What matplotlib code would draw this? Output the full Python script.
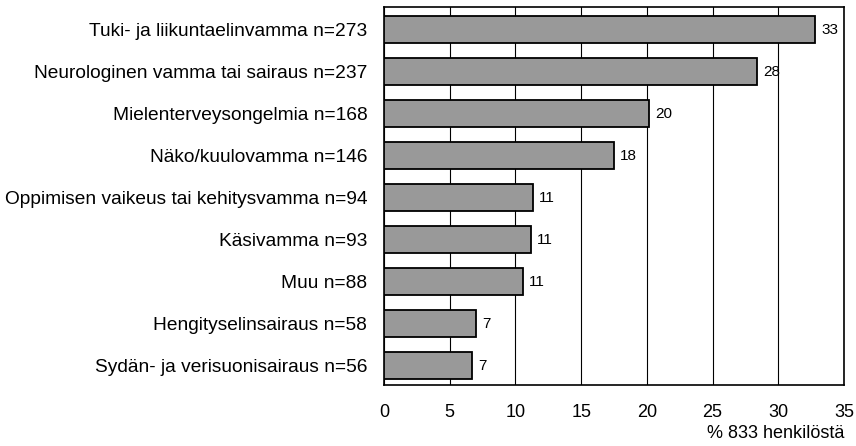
import matplotlib
matplotlib.use("Agg")
import matplotlib.pyplot as plt

categories = [
    "Tuki- ja liikuntaelinvamma n=273",
    "Neurologinen vamma tai sairaus n=237",
    "Mielenterveysongelmia n=168",
    "Näko/kuulovamma n=146",
    "Oppimisen vaikeus tai kehitysvamma n=94",
    "Käsivamma n=93",
    "Muu n=88",
    "Hengityselinsairaus n=58",
    "Sydän- ja verisuonisairaus n=56",
]
values = [32.8, 28.4, 20.2, 17.5, 11.3, 11.2, 10.6, 7.0, 6.7]
value_labels = ["33", "28", "20", "18", "11", "11", "11", "7", "7"]
xticks = [0, 5, 10, 15, 20, 25, 30, 35]
xlabel = "% 833 henkilöstä"

plt.rcParams["font.family"] = ["Liberation Sans", "DejaVu Sans"]

fig = plt.figure(figsize=(8.56, 4.46), dpi=100)
ax = fig.add_axes([384 / 856, 1 - 385 / 446, (844 - 384) / 856, (385 - 7) / 446])

y = list(range(len(categories)))
ax.set_axisbelow(True)
ax.grid(axis="x", color="black", linewidth=0.8)
ax.barh(y, values, height=0.64, color="#999999", edgecolor="black", linewidth=1.3, zorder=3)
for yi, v, lab in zip(y, values, value_labels):
    ax.text(v + 0.45, yi, lab, va="center", ha="left", fontsize=11, zorder=4)

ax.set_xlim(0, 35)
ax.set_ylim(8.464, -0.536)
ax.set_xticks(xticks)
ax.set_xticklabels([str(t) for t in xticks], fontsize=13)
ax.set_yticks(y)
ax.set_yticklabels(categories, fontsize=13.8)
ax.tick_params(axis="both", length=0)
ax.tick_params(axis="x", pad=14)
ax.tick_params(axis="y", pad=12)
for s in ax.spines.values():
    s.set_color("black")
    s.set_linewidth(1.2)

fig.text(844 / 856, 1 - 434 / 446, xlabel, ha="right", va="center", fontsize=13)

fig.savefig("out.png", dpi=100)
